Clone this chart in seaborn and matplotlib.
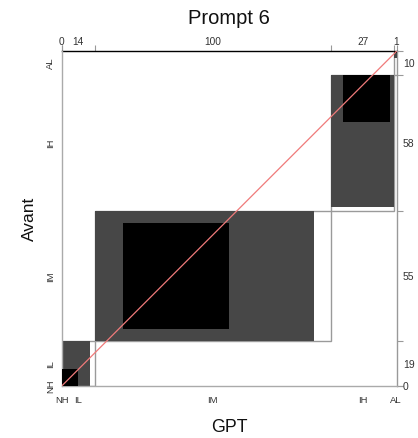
import numpy as np
import matplotlib
matplotlib.use("Agg")
import matplotlib.pyplot as plt
import seaborn as sns
from matplotlib.patches import Rectangle

# ---- data (rows = Avant, columns = GPT) ----
categories = ["NH", "IL", "IM", "IH", "AL"]
avant_NH = [0, 0, 0, 0, 0]
avant_IL = [0, 7, 12, 0, 0]
avant_IM = [0, 5, 45, 5, 0]
avant_IH = [0, 2, 36, 20, 0]
avant_AL = [0, 0, 7, 2, 1]
title = "Prompt 6"
xlabel = "GPT"
ylabel = "Avant"

sns.set_theme(style="white")
plt.rcParams['font.family'] = ['Liberation Sans', 'DejaVu Sans']

tab = np.array([avant_NH, avant_IL, avant_IM, avant_IH, avant_AL])
col_tot = tab.sum(axis=0)
row_tot = tab.sum(axis=1)
n = tab.sum()
k = len(categories)
x0 = np.concatenate([[0], np.cumsum(col_tot)])
y0 = np.concatenate([[0], np.cumsum(row_tot)])
xmid = x0[:-1] + col_tot / 2
ymid = y0[:-1] + row_tot / 2

W, H = 418, 438
fig = plt.figure(figsize=(W / 100, H / 100), dpi=100)
ax = fig.add_axes([61.7 / W, 52 / H, 335.1 / W, 335 / H])
ax.set_xlim(0, n)
ax.set_ylim(0, n)

box_col = '#9a9a9a'
for i in range(k):
    if col_tot[i] == 0 or row_tot[i] == 0:
        continue
    ax.add_patch(Rectangle((x0[i], y0[i]), col_tot[i], row_tot[i],
                           facecolor='white', edgecolor=box_col, lw=1.0, zorder=1))
    lo, hi = max(0, i - 1), min(k, i + 2)
    px = x0[i] + tab[:lo, i].sum()
    py = y0[i] + tab[i, :lo].sum()
    pw = tab[lo:hi, i].sum()
    ph = tab[i, lo:hi].sum()
    ax.add_patch(Rectangle((px, py), pw, ph, facecolor='#474747',
                           edgecolor='none', zorder=2))
    ex = x0[i] + tab[:i, i].sum()
    ey = y0[i] + tab[i, :i].sum()
    ax.add_patch(Rectangle((ex, ey), tab[i, i], tab[i, i], facecolor='black',
                           edgecolor='none', zorder=3))

sns.lineplot(x=[0, n], y=[0, n], color='#f07a7a', lw=0.9, ax=ax, zorder=4)

# bottom / left: category labels
ax.set_xticks(xmid)
ax.set_xticklabels(categories)
ax.set_yticks(ymid)
ax.set_yticklabels(categories, rotation=90, va='center')
ax.tick_params(axis='x', length=0, pad=7, labelsize=6.8, labelcolor='#333333')
ax.tick_params(axis='y', length=0, pad=5, labelsize=6.8, labelcolor='#333333')
for s in ['left', 'bottom']:
    ax.spines[s].set_color('#aaaaaa')
    ax.spines[s].set_linewidth(1.0)
ax.spines['top'].set_visible(False)
ax.spines['right'].set_visible(False)

# top: column totals
top = ax.secondary_xaxis('top')
top.xaxis.remove_overlapping_locs = False
top.set_xticks(x0, labels=[''] * len(x0))
top.set_xticks(xmid, labels=[str(v) for v in col_tot], minor=True)
top.tick_params(axis='x', which='major', length=4, width=0.8, color='#999999')
top.tick_params(axis='x', which='minor', length=0, pad=3, labelsize=7.3,
                labelcolor='#333333')
top.spines['top'].set_color('black')
top.spines['top'].set_linewidth(1.0)

# right: row totals
right = ax.secondary_yaxis('right')
right.yaxis.remove_overlapping_locs = False
right.set_yticks(y0, labels=[''] * len(y0))
right.set_yticks(ymid, labels=[str(v) for v in row_tot], minor=True)
right.tick_params(axis='y', which='major', length=4, width=0.8, color='#999999')
right.tick_params(axis='y', which='minor', length=0, pad=4.5, labelsize=7.5,
                  labelcolor='#333333')
right.spines['right'].set_color('#999999')
right.spines['right'].set_linewidth(1.0)

ax.set_xlabel(xlabel, fontsize=12.8, labelpad=10, color='#111111')
ax.set_ylabel(ylabel, fontsize=12.5, labelpad=6, color='#111111')
fig.text(229 / W, 1 - 18 / H, title, ha='center', va='center', fontsize=14.5,
         color='#111111')

fig.savefig("out.png", dpi=100)
